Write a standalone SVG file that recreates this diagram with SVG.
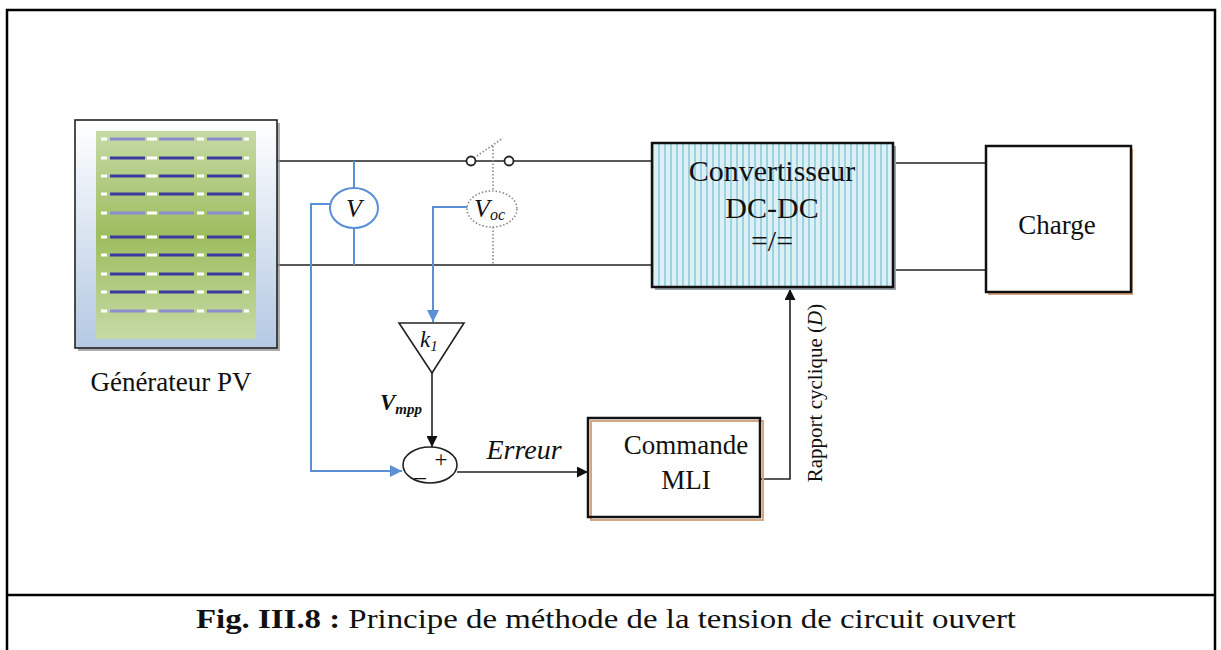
<svg xmlns="http://www.w3.org/2000/svg" width="1221" height="650" viewBox="0 0 1221 650">
  <style>
    .serif { font-family: "Liberation Serif", "Times New Roman", serif; fill: #111; }
    .wire { stroke: #222; stroke-width: 1.6; fill: none; }
    .blue { stroke: #5b8fd6; stroke-width: 2; fill: none; }
    .dots { stroke: #888; stroke-width: 1.6; stroke-dasharray: 1.5 2; fill: none; }
    .box { fill: #fff; stroke: #111; stroke-width: 2.5; }
    .cell { stroke: #3a3aa0; stroke-width: 3; }
    .cell.pale { stroke: #8c8cd0; }
    .gap { stroke: #ffffff; stroke-width: 3; }
  </style>
  <defs>
    <linearGradient id="pvFrame" x1="0" y1="0" x2="0" y2="1">
      <stop offset="0" stop-color="#ffffff"/>
      <stop offset="1" stop-color="#b4c9e3"/>
    </linearGradient>
    <linearGradient id="pvCells" x1="0" y1="0" x2="0" y2="1">
      <stop offset="0" stop-color="#c6daa6"/>
      <stop offset="0.5" stop-color="#9dbd5f"/>
      <stop offset="1" stop-color="#c6daa6"/>
    </linearGradient>
    <pattern id="stripes" x="652" y="0" width="6" height="10" patternUnits="userSpaceOnUse">
      <rect width="6" height="10" fill="#dcf0f5"/>
      <rect x="0" width="2" height="10" fill="#9fd2e0"/>
    </pattern>
    <marker id="arrowBlack" viewBox="0 0 10 10" refX="10" refY="5" markerWidth="11" markerHeight="11" markerUnits="userSpaceOnUse" orient="auto">
      <path d="M0,0 L10,5 L0,10 Z" fill="#111"/>
    </marker>
    <marker id="arrowBlue" viewBox="0 0 10 10" refX="10" refY="5" markerWidth="12" markerHeight="12" markerUnits="userSpaceOnUse" orient="auto">
      <path d="M0,0 L10,5 L0,10 Z" fill="#5b8fd6"/>
    </marker>
    <g id="cellRow">
      <line class="gap" x1="101" y1="0" x2="107" y2="0"/>
      <line class="cell" x1="110" y1="0" x2="145" y2="0"/>
      <line class="gap" x1="147" y1="0" x2="157" y2="0"/>
      <line class="cell" x1="159" y1="0" x2="194" y2="0"/>
      <line class="gap" x1="197" y1="0" x2="204" y2="0"/>
      <line class="cell" x1="207" y1="0" x2="242" y2="0"/>
      <line class="gap" x1="244" y1="0" x2="249" y2="0"/>
    </g>
    <g id="cellRowPale">
      <line class="gap" x1="101" y1="0" x2="107" y2="0"/>
      <line class="cell pale" x1="110" y1="0" x2="145" y2="0"/>
      <line class="gap" x1="147" y1="0" x2="157" y2="0"/>
      <line class="cell pale" x1="159" y1="0" x2="194" y2="0"/>
      <line class="gap" x1="197" y1="0" x2="204" y2="0"/>
      <line class="cell pale" x1="207" y1="0" x2="242" y2="0"/>
      <line class="gap" x1="244" y1="0" x2="249" y2="0"/>
    </g>
  </defs>

  <!-- page frame and caption separator -->
  <path d="M7,650 L7,10 L1215,10 L1215,650" fill="none" stroke="#000" stroke-width="2.5"/>
  <line x1="7" y1="595" x2="1215" y2="595" stroke="#000" stroke-width="2.5"/>

  <!-- connectors -->
  <g id="connectors">
    <!-- power lines -->
    <line class="wire" x1="277" y1="161" x2="652" y2="161"/>
    <line class="wire" x1="277" y1="265" x2="652" y2="265"/>
    <line class="wire" x1="893" y1="163" x2="986" y2="163"/>
    <line class="wire" x1="893" y1="270" x2="986" y2="270"/>
    <!-- voltage sensor taps -->
    <line class="blue" x1="354" y1="161" x2="354" y2="188"/>
    <line class="blue" x1="354" y1="228" x2="354" y2="265"/>
    <!-- switch lever and open-circuit probe -->
    <line class="dots" x1="474" y1="158" x2="503" y2="138"/>
    <line class="dots" x1="493" y1="146" x2="493" y2="191"/>
    <line class="dots" x1="493" y1="227" x2="493" y2="265"/>
    <!-- measured V to summing junction -->
    <polyline class="blue" points="330,204 311,204 311,471 402,471" marker-end="url(#arrowBlue)"/>
    <!-- Voc to gain k1 -->
    <polyline class="blue" points="468,207 433,207 433,322" marker-end="url(#arrowBlue)"/>
    <!-- Vmpp to summing junction -->
    <line class="wire" x1="432" y1="373" x2="432" y2="447" marker-end="url(#arrowBlack)"/>
    <!-- error to PWM -->
    <line class="wire" x1="457" y1="472" x2="588" y2="472" marker-end="url(#arrowBlack)"/>
    <!-- duty cycle to converter -->
    <polyline class="wire" points="760,479 790,479 790,289" marker-end="url(#arrowBlack)"/>
  </g>

  <!-- PV generator -->
  <g id="pv-generator">
    <rect x="78" y="123" width="202" height="228" fill="#8a8a8a" opacity="0.7"/>
    <rect x="75" y="120" width="202" height="228" fill="url(#pvFrame)" stroke="#222" stroke-width="1.6"/>
    <rect x="96" y="131" width="160" height="208" fill="url(#pvCells)"/>
    <use href="#cellRowPale" y="139"/>
    <use href="#cellRow" y="158"/>
    <use href="#cellRow" y="176"/>
    <use href="#cellRow" y="194"/>
    <use href="#cellRowPale" y="213"/>
    <use href="#cellRow" y="237"/>
    <use href="#cellRow" y="255"/>
    <use href="#cellRow" y="274"/>
    <use href="#cellRow" y="292"/>
    <use href="#cellRowPale" y="311"/>
    <text class="serif" x="171" y="391" font-size="27" text-anchor="middle">Générateur PV</text>
  </g>

  <!-- switch contacts -->
  <g id="switch">
    <circle cx="471" cy="161" r="4.5" fill="#fff" stroke="#222" stroke-width="1.8"/>
    <circle cx="509" cy="161" r="4.5" fill="#fff" stroke="#222" stroke-width="1.8"/>
  </g>

  <!-- voltmeter V -->
  <g id="voltmeter-v">
    <ellipse cx="354" cy="208" rx="24" ry="20" fill="#fff" stroke="#5b8fd6" stroke-width="2"/>
    <text class="serif" x="354" y="217" font-size="26" font-style="italic" text-anchor="middle">V</text>
  </g>

  <!-- open-circuit voltage probe -->
  <g id="probe-voc">
    <ellipse cx="492" cy="209" rx="25" ry="18" fill="#fff" stroke="#888" stroke-width="1.6" stroke-dasharray="1.5 2"/>
    <text class="serif" x="474" y="217" font-size="26" font-style="italic">V<tspan font-size="16" dy="3">oc</tspan></text>
  </g>

  <!-- gain k1 -->
  <g id="gain-k1">
    <polygon points="399,323 464,323 432,373" fill="#fff" stroke="#222" stroke-width="1.6"/>
    <text class="serif" x="420" y="347" font-size="23" font-style="italic">k<tspan font-size="15" dy="4">1</tspan></text>
    <text class="serif" x="380" y="410" font-size="23" font-style="italic" font-weight="bold">V<tspan font-size="15" dy="4">mpp</tspan></text>
  </g>

  <!-- summing junction -->
  <g id="sum">
    <ellipse cx="430" cy="465" rx="27" ry="18" fill="#fff" stroke="#222" stroke-width="1.6"/>
    <text class="serif" x="441" y="467" font-size="23" text-anchor="middle">+</text>
    <text class="serif" x="420" y="476" font-size="23" text-anchor="middle">_</text>
    <text class="serif" x="524" y="459" font-size="28" font-style="italic" text-anchor="middle">Erreur</text>
  </g>

  <!-- PWM command -->
  <g id="commande-mli">
    <rect x="591" y="421" width="172" height="99" fill="none" stroke="#d6a583" stroke-width="2"/>
    <rect x="588" y="418" width="172" height="99" fill="none" stroke="#111" stroke-width="2.5"/>
    <text class="serif" x="686" y="454" font-size="27" text-anchor="middle">Commande</text>
    <text class="serif" x="686" y="489" font-size="27" text-anchor="middle">MLI</text>
  </g>

  <!-- duty cycle label -->
  <text class="serif" transform="translate(822,393) rotate(-90)" font-size="21" text-anchor="middle">Rapport cyclique (<tspan font-style="italic">D</tspan>)</text>

  <!-- DC-DC converter -->
  <g id="convertisseur">
    <rect x="655" y="146" width="241" height="144" fill="#9aa3a8"/>
    <rect x="652" y="143" width="241" height="144" fill="url(#stripes)" stroke="#111" stroke-width="2.5"/>
    <text class="serif" x="772" y="181" font-size="30" text-anchor="middle">Convertisseur</text>
    <text class="serif" x="772" y="218" font-size="30" text-anchor="middle">DC-DC</text>
    <text class="serif" x="772" y="251" font-size="30" text-anchor="middle">=/=</text>
  </g>

  <!-- load -->
  <g id="charge">
    <rect x="988" y="149" width="145" height="146" fill="#d6a583"/>
    <rect x="986" y="146" width="145" height="146" class="box"/>
    <text class="serif" x="1057" y="234" font-size="27" text-anchor="middle">Charge</text>
  </g>

  <!-- caption -->
  <text class="serif" x="196" y="628" font-size="27" fill="#000" textLength="820" lengthAdjust="spacingAndGlyphs"><tspan font-weight="bold">Fig. III.8 : </tspan> Principe de méthode de la tension de circuit ouvert</text>
</svg>
